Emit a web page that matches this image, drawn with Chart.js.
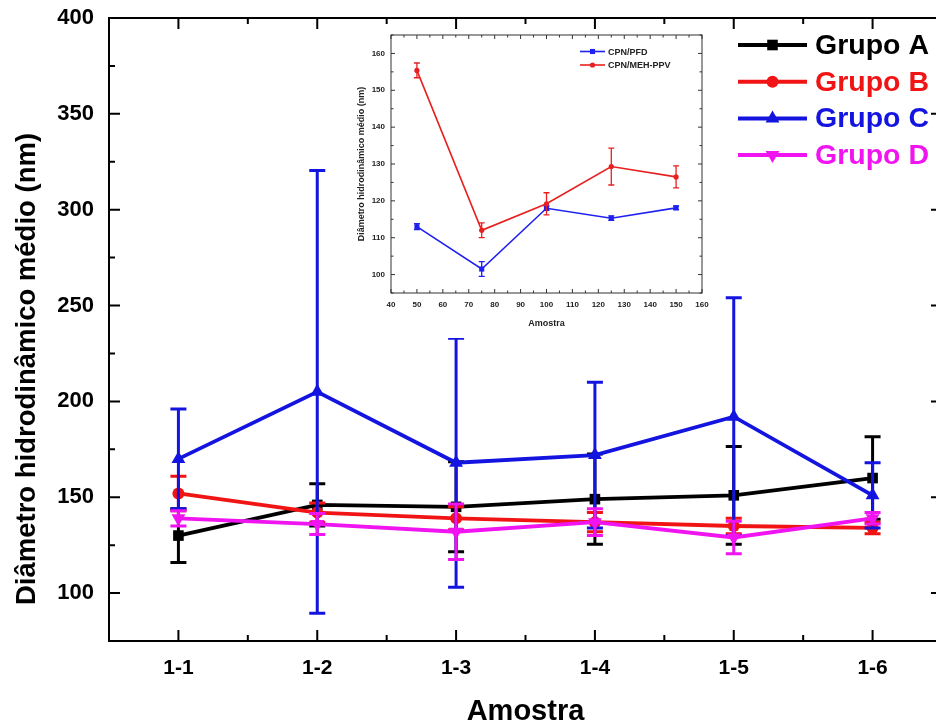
<!DOCTYPE html>
<html>
<head>
<meta charset="utf-8">
<script src="https://cdn.jsdelivr.net/npm/chart.js@4.4.1/dist/chart.umd.min.js"></script>
<style>
  html, body { margin: 0; padding: 0; background: #fff; overflow: hidden; }
  #wrap { position: relative; width: 936px; height: 726px; overflow: hidden; background: #fff; }
  #main { position: absolute; left: 0; top: 0; }
  #inset { position: absolute; left: 345px; top: 30px; background: #fff; }
</style>
</head>
<body>
<div id="wrap">
  <canvas id="main" width="950" height="726"></canvas>
  <canvas id="inset" width="365" height="308"></canvas>
</div>
<script>
// main chart data
var labels = ["1-1", "1-2", "1-3", "1-4", "1-5", "1-6"];
var yTicks = [100, 150, 200, 250, 300, 350, 400];
var grupoA = [130, 146, 145, 149, 151, 160];
var errA = [14, 11, 23.5, 23.5, 25.5, 21.5];
var grupoB = [152, 142, 139, 137, 135, 134];
var errB = [9, 5, 6, 5, 4, 3];
var grupoC = [170, 205, 168, 172, 192, 151];
var errC = [26, 115.5, 65, 38, 62, 17];
var grupoD = [139, 136, 132, 137, 129, 139];
var errD = [4, 5.5, 14.5, 7, 8.5, 3];

// inset data
var insetX = [50, 75, 100, 125, 150];
var insetXTicks = [40, 50, 60, 70, 80, 90, 100, 110, 120, 130, 140, 150, 160];
var insetYTicks = [100, 110, 120, 130, 140, 150, 160];
var pfd = [113, 101.5, 118, 115.3, 118.1];
var pfdErr = [0.8, 2, 0.6, 0.6, 0.5];
var meh = [155.4, 112, 119.2, 129.3, 126.5];
var mehErr = [2, 2, 3, 5, 3];

var FONT = "'Liberation Sans', Arial, sans-serif";
Chart.defaults.font.family = FONT;
Chart.defaults.color = "#000";

function pts(xs, ys) {
  return ys.map(function (v, i) { return { x: xs[i], y: v }; });
}
function mids(arr) {
  var out = [];
  for (var i = 0; i < arr.length - 1; i++) out.push((arr[i] + arr[i + 1]) / 2);
  return out;
}

function drawMarker(ctx, style, x, y, r, flip) {
  ctx.beginPath();
  if (style === "rect") {
    var s = r * Math.SQRT1_2;
    ctx.rect(x - s, y - s, 2 * s, 2 * s);
  } else if (style === "circle") {
    ctx.arc(x, y, r, 0, Math.PI * 2);
  } else {
    var d = flip ? -1 : 1;
    ctx.moveTo(x, y - d * r);
    ctx.lineTo(x + r * 0.866, y + d * r * 0.5);
    ctx.lineTo(x - r * 0.866, y + d * r * 0.5);
    ctx.closePath();
  }
  ctx.fill();
}

// box round the plot with inward ticks on all four sides
var frameTicks = {
  id: "frameTicks",
  afterDatasetsDraw: function (chart, args, o) {
    var a = chart.chartArea, ctx = chart.ctx;
    var xs = chart.scales.x, ys = chart.scales.y;
    ctx.save();
    ctx.strokeStyle = o.color;
    ctx.lineWidth = o.width;
    ctx.strokeRect(a.left, a.top, a.right - a.left, a.bottom - a.top);
    ctx.beginPath();
    function tx(vals, len) {
      vals.forEach(function (v) {
        var p = xs.getPixelForValue(v);
        ctx.moveTo(p, a.bottom); ctx.lineTo(p, a.bottom - len);
        ctx.moveTo(p, a.top); ctx.lineTo(p, a.top + len);
      });
    }
    function ty(vals, len) {
      vals.forEach(function (v) {
        var p = ys.getPixelForValue(v);
        ctx.moveTo(a.left, p); ctx.lineTo(a.left + len, p);
        ctx.moveTo(a.right, p); ctx.lineTo(a.right - len, p);
      });
    }
    tx(o.xMajor, o.major); tx(o.xMinor, o.minor);
    ty(o.yMajor, o.major); ty(o.yMinor, o.minor);
    ctx.stroke();
    ctx.restore();
  }
};

// vertical error bars with caps, drawn right after each dataset
var errorBars = {
  id: "errorBars",
  afterDatasetDraw: function (chart, args, o) {
    var ds = chart.data.datasets[args.index];
    if (!ds.errors) return;
    var ys = chart.scales.y, ctx = chart.ctx;
    ctx.save();
    ctx.strokeStyle = ds.borderColor;
    ctx.lineWidth = o.width;
    ctx.beginPath();
    args.meta.data.forEach(function (pt, i) {
      var v = ds.data[i].y, e = ds.errors[i];
      var top = ys.getPixelForValue(v + e), bot = ys.getPixelForValue(v - e);
      ctx.moveTo(pt.x, top); ctx.lineTo(pt.x, bot);
      ctx.moveTo(pt.x - o.cap, top); ctx.lineTo(pt.x + o.cap, top);
      ctx.moveTo(pt.x - o.cap, bot); ctx.lineTo(pt.x + o.cap, bot);
    });
    ctx.stroke();
    ctx.restore();
  }
};

// legend with a line and marker per series
var lineLegend = {
  id: "lineLegend",
  afterDraw: function (chart, args, o) {
    var ctx = chart.ctx;
    ctx.save();
    chart.data.datasets.forEach(function (ds, i) {
      var y = o.top + i * o.step;
      ctx.strokeStyle = ds.borderColor;
      ctx.fillStyle = ds.borderColor;
      ctx.lineWidth = o.lineWidth;
      ctx.beginPath();
      ctx.moveTo(o.x0, y); ctx.lineTo(o.x1, y);
      ctx.stroke();
      drawMarker(ctx, ds.pointStyle, (o.x0 + o.x1) / 2, y, o.markerScale * ds.pointRadius, ds.pointRotation === 180);
      ctx.fillStyle = o.textColor || ds.borderColor;
      ctx.font = o.font;
      ctx.textBaseline = "middle";
      ctx.textAlign = "left";
      ctx.fillText(ds.label, o.textX, y + 1);
    });
    if (o.yTitle) {
      ctx.fillStyle = "#000";
      ctx.font = o.yTitle.font;
      ctx.translate(o.yTitle.x, o.yTitle.y);
      ctx.rotate(-Math.PI / 2);
      ctx.textAlign = "center";
      ctx.textBaseline = "middle";
      ctx.fillText(o.yTitle.text, 0, 0);
    }
    ctx.restore();
  }
};

function series(label, color, xs, ys, errs, style, radius, order, rot) {
  return {
    label: label,
    data: pts(xs, ys),
    errors: errs,
    borderColor: color,
    backgroundColor: color,
    pointBackgroundColor: color,
    pointBorderColor: color,
    pointStyle: style,
    pointRadius: radius,
    pointRotation: rot || 0,
    pointBorderWidth: 0,
    showLine: true,
    order: order
  };
}

// fixed axis sizes, no extra room for half labels
function fixX(h) {
  return function (s) { s.height = h; s.paddingLeft = 0; s.paddingRight = 0; };
}
function fixY(w) {
  return function (s) { s.width = w; s.paddingTop = 0; s.paddingBottom = 0; };
}

var xIdx = labels.map(function (l, i) { return i + 1; });

var mainSets = [
  series("Grupo A", "#000000", xIdx, grupoA, errA, "rect", 7.5, 3),
  series("Grupo B", "#f01414", xIdx, grupoB, errB, "circle", 6, 2),
  series("Grupo C", "#1414e0", xIdx, grupoC, errC, "triangle", 8, 1),
  series("Grupo D", "#f014f0", xIdx, grupoD, errD, "triangle", 8, 0, 180)
];
mainSets.forEach(function (d) { d.borderWidth = 3.8; });

new Chart(document.getElementById("main").getContext("2d"), {
  type: "scatter",
  data: { datasets: mainSets },
  plugins: [frameTicks, errorBars, lineLegend],
  options: {
    responsive: false,
    animation: false,
    devicePixelRatio: 1,
    layout: { padding: { top: 18, right: 1, left: 0, bottom: 0 } },
    plugins: {
      legend: { display: false },
      tooltip: { enabled: false },
      frameTicks: {
        color: "#000", width: 2, major: 11, minor: 6,
        xMajor: xIdx, xMinor: mids(xIdx),
        yMajor: yTicks, yMinor: mids(yTicks).concat([75])
      },
      errorBars: { width: 3, cap: 8 },
      lineLegend: {
        x0: 738, x1: 807, textX: 815, top: 45, step: 36.7,
        lineWidth: 4, markerScale: 1, font: "bold 28.5px " + FONT,
        yTitle: { text: "Diâmetro hidrodinâmico médio (nm)", x: 27, y: 369, font: "bold 27.5px " + FONT }
      }
    },
    scales: {
      x: {
        type: "linear", min: 0.5, max: 6.5,
        afterBuildTicks: function (s) { s.ticks = xIdx.map(function (v) { return { value: v }; }); },
        afterFit: fixX(85),
        grid: { display: false, drawTicks: false },
        border: { display: false },
        ticks: {
          autoSkip: false, maxRotation: 0, padding: 15, color: "#000",
          font: { size: 21, weight: "bold" },
          callback: function (v) { return labels[Math.round(v) - 1]; }
        },
        title: {
          display: true, text: "Amostra", color: "#000",
          font: { size: 29, weight: "bold", lineHeight: 1 },
          padding: { top: 0, bottom: 0 }
        }
      },
      y: {
        type: "linear", min: 75, max: 400,
        afterBuildTicks: function (s) { s.ticks = yTicks.map(function (v) { return { value: v }; }); },
        afterFit: fixY(109),
        grid: { display: false, drawTicks: false },
        border: { display: false },
        ticks: { padding: 15, color: "#000", font: { size: 22, weight: "bold" } }
      }
    }
  }
});

// inset chart
var insetSets = [
  series("CPN/PFD", "#2020f0", insetX, pfd, pfdErr, "rect", 3.6, 1),
  series("CPN/MEH-PPV", "#e82020", insetX, meh, mehErr, "circle", 2.6, 0)
];
insetSets.forEach(function (d) { d.borderWidth = 1.6; });

new Chart(document.getElementById("inset").getContext("2d"), {
  type: "scatter",
  data: { datasets: insetSets },
  plugins: [frameTicks, errorBars, lineLegend],
  options: {
    responsive: false,
    animation: false,
    devicePixelRatio: 1,
    layout: { padding: { top: 5, right: 8, left: 0, bottom: 0 } },
    plugins: {
      legend: { display: false },
      tooltip: { enabled: false },
      frameTicks: {
        color: "#333", width: 1, major: 4, minor: 2.5,
        xMajor: insetXTicks, xMinor: mids(insetXTicks),
        yMajor: insetYTicks, yMinor: mids(insetYTicks).concat([95, 165])
      },
      errorBars: { width: 1.3, cap: 3 },
      lineLegend: {
        x0: 235, x1: 260, textX: 263, top: 21.5, step: 13.5,
        lineWidth: 1.6, markerScale: 1, font: "bold 9px " + FONT, textColor: "#222"
      }
    },
    scales: {
      x: {
        type: "linear", min: 40, max: 160,
        afterBuildTicks: function (s) { s.ticks = insetXTicks.map(function (v) { return { value: v }; }); },
        afterFit: fixX(45),
        grid: { display: false, drawTicks: false },
        border: { display: false },
        ticks: { autoSkip: false, maxRotation: 0, padding: 7, color: "#222", font: { size: 8, weight: "bold" } },
        title: {
          display: true, text: "Amostra", color: "#222",
          font: { size: 9, weight: "bold", lineHeight: 1 },
          padding: { top: 0, bottom: 10 }
        }
      },
      y: {
        type: "linear", min: 95, max: 165,
        afterBuildTicks: function (s) { s.ticks = insetYTicks.map(function (v) { return { value: v }; }); },
        afterFit: fixY(46),
        grid: { display: false, drawTicks: false },
        border: { display: false },
        ticks: { padding: 6, color: "#222", font: { size: 8, weight: "bold" } },
        title: {
          display: true, text: "Diâmetro hidrodinâmico médio (nm)", color: "#222",
          font: { size: 9, weight: "bold", lineHeight: 1 },
          padding: { top: 12, bottom: 0 }
        }
      }
    }
  }
});
</script>
</body>
</html>
